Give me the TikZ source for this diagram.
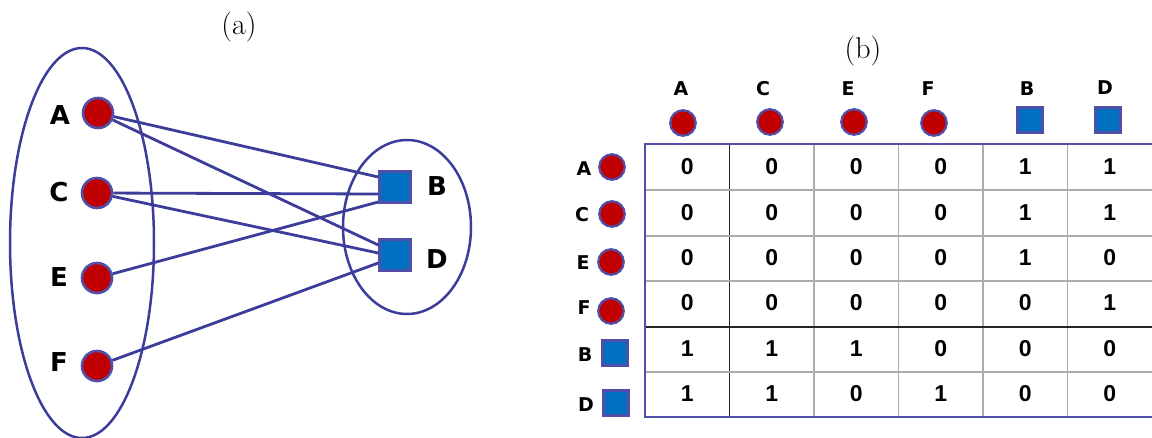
\documentclass[tikz,border=0pt]{standalone}
\usepackage{fontspec}
\usetikzlibrary{shapes.geometric}
\newfontfamily\lblfont{DejaVu Sans}
\newfontfamily\numfont{Liberation Sans}
\definecolor{nodered}{RGB}{192,0,0}
\definecolor{nodeblue}{RGB}{0,112,192}
\definecolor{rimblue}{RGB}{80,80,170}
\definecolor{edgeblue}{RGB}{60,60,155}
\tikzset{
  rc/.style={circle, fill=nodered, draw=rimblue, line width=2.6pt, minimum size=30pt, inner sep=0pt},
  bsq/.style={rectangle, fill=nodeblue, draw=rimblue, line width=2.6pt, minimum size=31pt, inner sep=0pt},
  rcs/.style={circle, fill=nodered, draw=rimblue, line width=2.2pt, minimum size=25.5pt, inner sep=0pt},
  bsqs/.style={rectangle, fill=nodeblue, draw=rimblue, line width=2.2pt, minimum size=25pt, inner sep=0pt},
  biglbl/.style={font=\lblfont\bfseries\fontsize{26}{26}\selectfont, inner sep=0pt},
  smlbl/.style={font=\lblfont\bfseries\fontsize{19}{19}\selectfont, inner sep=0pt},
  numtext/.style={font=\numfont\bfseries\fontsize{23}{23}\selectfont, inner sep=0pt},
  captext/.style={font=\fontsize{30}{30}\selectfont, inner sep=0pt},
  grp/.style={draw=edgeblue, line width=2.5pt},
  conn/.style={draw=edgeblue, line width=2.8pt},
  thingrid/.style={draw=gray!65, line width=1.2pt},
  darkgrid/.style={draw=black!85, line width=1.2pt},
  tblborder/.style={draw=rimblue, line width=2.5pt}
}
\begin{document}
\begin{tikzpicture}[x=1pt,y=-1pt]
\useasboundingbox (0,0) rectangle (1152,438);
% ---------------- panel (a)
\node[captext] (capa) at (239,27) {(a)};
\node[grp, ellipse, minimum width=144pt, minimum height=390pt] (left) at (82,243) {};
\node[grp, ellipse, minimum width=128pt, minimum height=174pt] (right) at (407,227) {};
\node[rc] (A) at (98,113) {};
\node[rc] (C) at (97,193) {};
\node[rc] (E) at (97,278) {};
\node[rc] (F) at (97,366) {};
\node[bsq] (B) at (395,187) {};
\node[bsq] (D) at (395,255) {};
\node[biglbl] (lA) at (60,115) {A};
\node[biglbl] (lC) at (59,192) {C};
\node[biglbl] (lE) at (59,277) {E};
\node[biglbl] (lF) at (59,362) {F};
\node[biglbl] (lB) at (437,186) {B};
\node[biglbl] (lD) at (437,259) {D};
\draw[conn] (A) -- ([yshift=10pt]B.west);
\draw[conn] (A) -- ([yshift=10pt]D.west);
\draw[conn] (C) -- ([yshift=-7pt]B.west);
\draw[conn] (C) -- ([yshift=2pt]D.west);
\draw[conn] (E) -- ([yshift=-15pt]B.west);
\draw[conn] (F) -- ([yshift=-8pt]D.west);
% ---------------- panel (b)
\node[captext] (capb) at (863,51) {(b)};
% column headers
\node[smlbl] (hA) at (681,89) {A};
\node[smlbl] (hC) at (763,89) {C};
\node[smlbl] (hE) at (848,89) {E};
\node[smlbl] (hF) at (928,89) {F};
\node[smlbl] (hB) at (1027,89) {B};
\node[smlbl] (hD) at (1105,88) {D};
\node[rcs] (sA) at (683,123) {};
\node[rcs] (sC) at (770,122) {};
\node[rcs] (sE) at (854,122) {};
\node[rcs] (sF) at (934,123) {};
\node[bsqs] (sB) at (1030,120) {};
\node[bsqs] (sD) at (1108,120) {};
% row headers
\node[smlbl] (rA) at (584,169) {A};
\node[smlbl] (rC) at (582,215) {C};
\node[smlbl] (rE) at (583,263) {E};
\node[smlbl] (rF) at (584,308) {F};
\node[smlbl] (rB) at (585,355) {B};
\node[smlbl] (rD) at (586,405) {D};
\node[rcs] (tA) at (612,167) {};
\node[rcs] (tC) at (612,214) {};
\node[rcs] (tE) at (611,262) {};
\node[rcs] (tF) at (611,311) {};
\node[bsqs] (tB) at (615,353) {};
\node[bsqs] (tD) at (616,403) {};
% grid
\foreach \x in {814,898.5,983,1067.5} \draw[thingrid] (\x,144) -- (\x,417);
\draw[darkgrid] (729.5,144) -- (729.5,417);
\foreach \y in {190,236,281,372} \draw[thingrid] (645,\y) -- (1152,\y);
\draw[darkgrid] (645,327) -- (1152,327);
\draw[tblborder] (1153,144) -- (645,144) -- (645,417) -- (1153,417);
% cells
\foreach \row/\y/\vals in {1/167/{0,0,0,0,1,1}, 2/213/{0,0,0,0,1,1}, 3/258/{0,0,0,0,1,0}, 4/303/{0,0,0,0,0,1}, 5/349/{1,1,1,0,0,0}, 6/394/{1,1,0,1,0,0}}{
  \foreach \v [count=\col] in \vals {
    \pgfmathsetmacro{\xc}{645+84.5*(\col-0.5)}
    \node[numtext] (c-\row-\col) at (\xc,\y) {\v};
  }
}
\end{tikzpicture}
\end{document}
